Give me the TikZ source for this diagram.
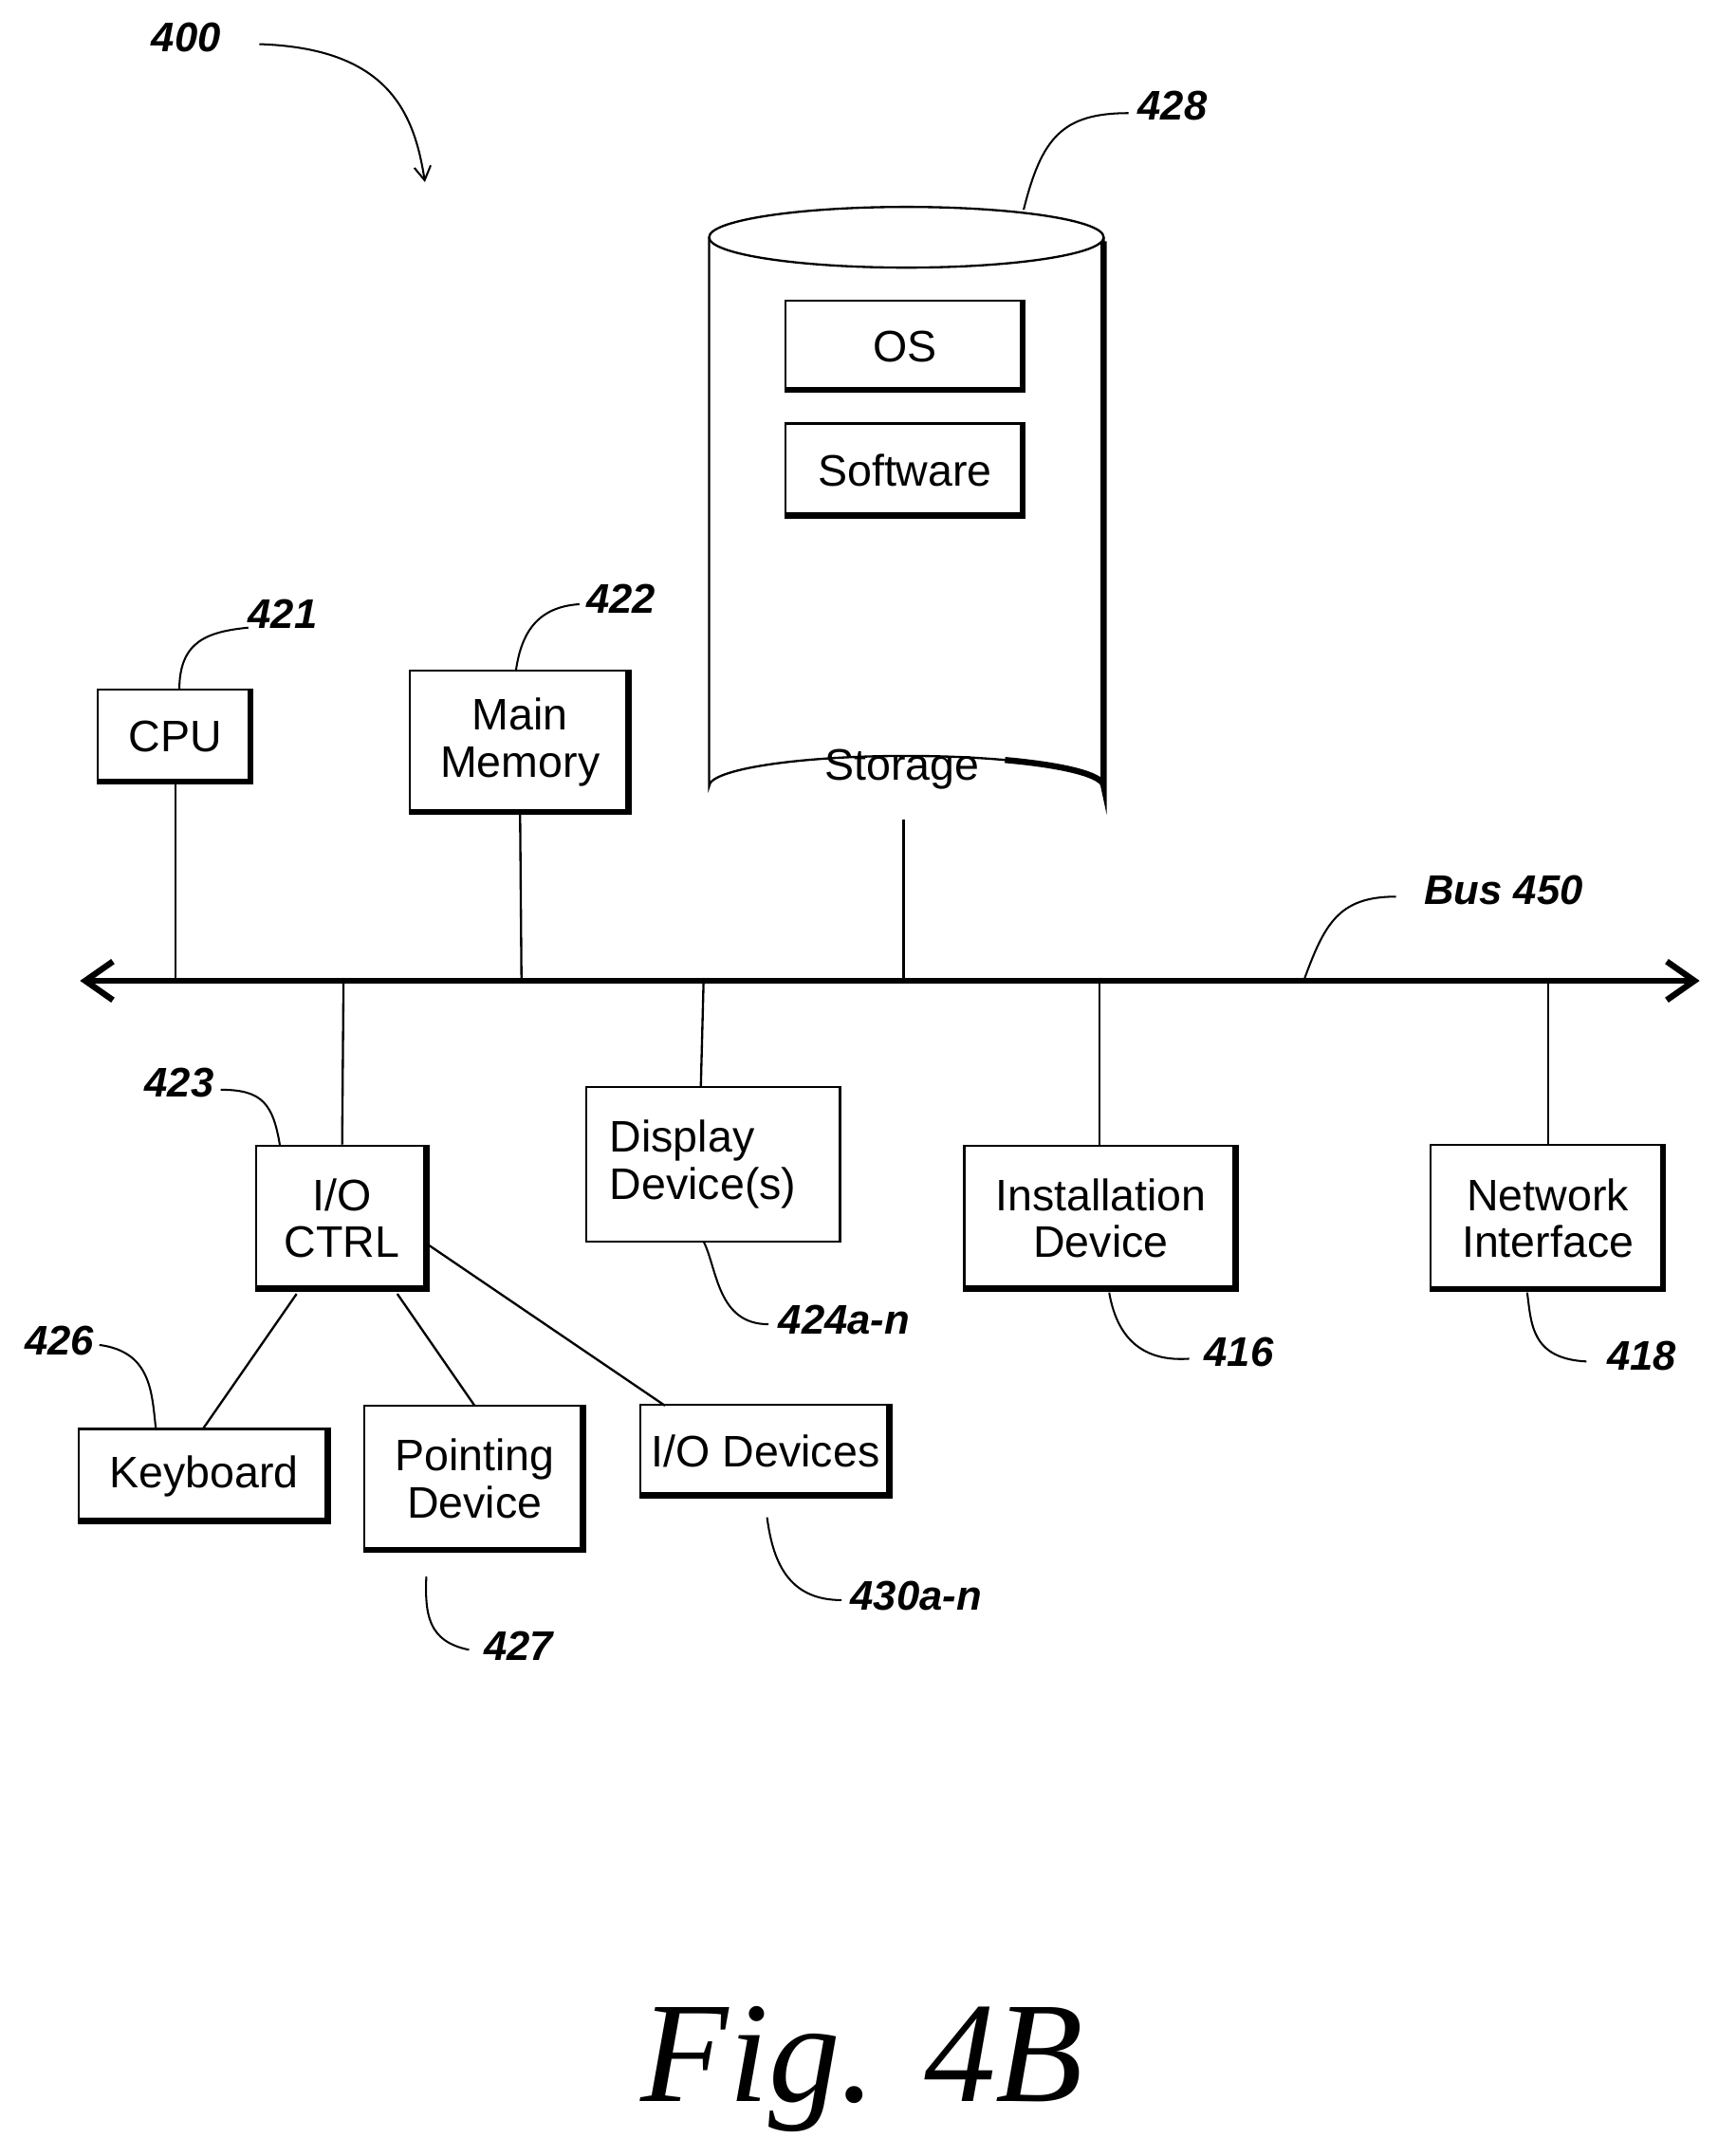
\documentclass[tikz,border=0pt]{standalone}
\usepackage{fontspec}
\setmainfont{Liberation Sans}
\newfontfamily\figfont{Liberation Serif}
\usetikzlibrary{arrows.meta}
\begin{document}
\begin{tikzpicture}[x=0.5pt,y=-0.5pt,
  box/.style={draw,line width=0.8pt,minimum width=#1,align=center,font=\fontsize{16}{17}\selectfont,inner sep=0pt},
  sh/.style={line width=2.2pt},
  lab/.style={font=\fontsize{15}{16}\selectfont\bfseries\itshape},
  lead/.style={line width=0.7pt},
  conn/.style={line width=0.8pt}]
\useasboundingbox (0,0) rectangle (1245,1563);
\newcommand{\shd}[1]{\draw[sh] ([xshift=-1.1pt]#1.north east) -- ([xshift=-1.1pt,yshift=1.1pt]#1.south east) -- ([yshift=1.1pt]#1.south west);}
% storage cylinder
\coordinate (stl) at (514,172); \coordinate (str) at (800,172);
\draw[line width=0.8pt] (657,172) ellipse [x radius=143, y radius=22];
\draw[line width=0.8pt] (514,172) -- (514,570) arc[start angle=180,end angle=360,x radius=143,y radius=22] -- (800,172);
\draw[line width=2.2pt] (800,175) -- (800,570) arc[start angle=0,end angle=-60,x radius=143,y radius=22];
\node[font=\fontsize{16}{17}\selectfont] (stor) at (654,558) {Storage};
\node[box=173*0.5pt,minimum height=66*0.5pt] (os) at (656,251) {OS}; \shd{os}
\node[box=173*0.5pt,minimum height=68*0.5pt] (sw) at (656,341) {Software}; \shd{sw}
% top boxes
\node[box=112*0.5pt,minimum height=68*0.5pt] (cpu) at (127,534) {CPU}; \shd{cpu}
\node[box=160*0.5pt,minimum height=104*0.5pt] (mem) at (377,538) {Main\\Memory}; \shd{mem}
% bus
\coordinate (bl) at (58,711); \coordinate (br) at (1232,711);
\draw[line width=2.2pt,{Straight Barb[length=10pt,width=14pt]}-{Straight Barb[length=10pt,width=14pt]}] (bl) -- (br);
% bottom boxes
\node[box=125*0.5pt,minimum height=105*0.5pt] (io) at (248,883) {I/O\\CTRL}; \shd{io}
\node[box=184*0.5pt,minimum height=112*0.5pt,align=left,text width=150*0.5pt] (disp) at (517,844) {Display\\Device(s)};
\node[box=198*0.5pt,minimum height=105*0.5pt] (inst) at (798,883) {Installation\\Device}; \shd{inst}
\node[box=170*0.5pt,minimum height=106*0.5pt] (net) at (1122,883) {Network\\Interface}; \shd{net}
\node[box=182*0.5pt,minimum height=68*0.5pt] (kb) at (148,1070) {Keyboard}; \shd{kb}
\node[box=160*0.5pt,minimum height=106*0.5pt] (pt) at (344,1072) {Pointing\\Device}; \shd{pt}
\node[box=182*0.5pt,minimum height=67*0.5pt] (iod) at (555,1052) {I/O Devices}; \shd{iod}
% connectors to bus
\coordinate (b1) at (127,711); \coordinate (b2) at (378,711); \coordinate (b3) at (655,711);
\coordinate (b4) at (249,711); \coordinate (b5) at (510,711); \coordinate (b6) at (797,711); \coordinate (b7) at (1122,711);
\draw[conn] (cpu.south) -- (b1);
\draw[conn] (mem.south) -- (b2);
\draw[conn] (655,594) -- (b3);
\draw[conn] (b4) -- (io.north);
\draw[conn] (b5) -- (508,788);
\draw[conn] (b6) -- (797,831);
\draw[conn] (b7) -- (1122,830);
\draw[conn] (215,938) -- (147,1036);
\draw[conn] (288,938) -- (344,1019);
\draw[conn] (io.east |- 0,903) -- (482,1019);
% labels
\node[lab] (l400) at (135,27) {400};
\draw[lead,-{Straight Barb[length=5pt,width=6pt]}] (188,32) .. controls (280,35) and (300,80) .. (308,132);
\node[lab] (l428) at (850,77) {428};
\draw[lead] (818,82) .. controls (770,82) and (755,100) .. (742,152);
\node[lab] (l421) at (205,445) {421};
\draw[lead] (180,455) .. controls (150,458) and (130,465) .. (130,500);
\node[lab] (l422) at (450,434) {422};
\draw[lead] (420,438) .. controls (390,440) and (378,458) .. (374,486);
\node[lab] (l450) at (1090,645) {Bus 450};
\draw[lead] (1012,650) .. controls (970,650) and (960,670) .. (945,711);
\node[lab] (l423) at (130,785) {423};
\draw[lead] (160,790) .. controls (190,790) and (198,800) .. (203,831);
\node[lab] (l424) at (612,957) {424a-n};
\draw[lead] (557,960) .. controls (520,960) and (520,920) .. (510,900);
\node[lab] (l416) at (898,980) {416};
\draw[lead] (862,985) .. controls (820,988) and (808,960) .. (804,937);
\node[lab] (l418) at (1190,983) {418};
\draw[lead] (1150,987) .. controls (1110,985) and (1110,960) .. (1107,937);
\node[lab] (l426) at (43,972) {426};
\draw[lead] (72,975) .. controls (110,980) and (110,1010) .. (113,1036);
\node[lab] (l427) at (376,1193) {427};
\draw[lead] (340,1196) .. controls (310,1190) and (308,1170) .. (309,1143);
\node[lab] (l430) at (664,1157) {430a-n};
\draw[lead] (610,1160) .. controls (570,1160) and (560,1130) .. (556,1100);
\node[font=\figfont\itshape\fontsize{52}{54}\selectfont] (fig) at (625,1500) {Fig. 4B};
\end{tikzpicture}
\end{document}
